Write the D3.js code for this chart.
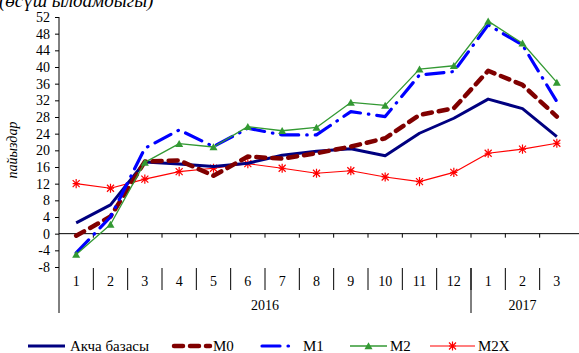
<!DOCTYPE html>
<html>
<head>
<meta charset="utf-8">
<script src="https://cdn.jsdelivr.net/npm/d3@7"></script>
<style>
  body { margin: 0; background: #fff; }
  svg { display: block; }
</style>
</head>
<body>
<div id="chart"></div>
<script>
const months = ["1", "2", "3", "4", "5", "6", "7", "8", "9", "10", "11", "12", "1", "2", "3"];
const years = [
  { label: "2016", n: 12 },
  { label: "2017", n: 3 },
];
const yTicks = [-8, -4, 0, 4, 8, 12, 16, 20, 24, 28, 32, 36, 40, 44, 48, 52];

const baseMoney = [2.6, 6.9, 17.2, 16.7, 16.1, 16.9, 18.8, 19.8, 20.4, 18.7, 24.1, 27.7, 32.3, 30.0, 23.3];
const m0 = [-0.5, 4.1, 17.3, 17.6, 13.9, 18.5, 18.0, 19.3, 20.9, 22.9, 28.5, 30.1, 39.1, 35.7, 28.1];
const m1 = [-4.6, 4.0, 20.5, 24.9, 20.9, 25.3, 23.7, 23.7, 29.3, 28.1, 38.1, 38.9, 50.1, 45.3, 31.7];
const m2 = [-5.0, 2.2, 17.1, 21.6, 20.8, 25.7, 24.7, 25.5, 31.5, 30.8, 39.5, 40.3, 51.0, 45.7, 36.3];
const m2x = [12.0, 10.9, 13.1, 14.9, 15.7, 16.8, 15.7, 14.5, 15.1, 13.6, 12.5, 14.7, 19.3, 20.3, 21.7];

const series = [
  { name: "Акча базасы", values: baseMoney, color: "#000080", width: 3, dash: null, cap: "butt" },
  { name: "M0", values: m0, color: "#800000", width: 4.5, dash: "9,7", cap: "round" },
  { name: "M1", values: m1, color: "#0000ff", width: 3.2, dash: "18,8,0.5,8", cap: "round" },
  { name: "M2", values: m2, color: "#339933", width: 1.3, dash: null, cap: "butt", marker: "triangle" },
  { name: "M2X", values: m2x, color: "#ff0000", width: 1.2, dash: null, cap: "butt", marker: "star" },
];

const FONT = "'Liberation Serif', 'DejaVu Serif', serif";
const size = { width: 579, height: 353 };
const margin = { left: 59, right: 5, top: 17, plotBottom: 267 };

const svg = d3
  .select("#chart")
  .append("svg")
  .attr("width", size.width)
  .attr("height", size.height);

const x = d3
  .scaleBand()
  .domain(d3.range(months.length))
  .range([margin.left, size.width - margin.right]);

const y = d3.scaleLinear().domain([-8, 52]).range([margin.plotBottom, margin.top]);

// title, cut off at the top like the source image
svg
  .append("text")
  .text("(өсүш ылдамдыгы)")
  .attr("x", -1)
  .attr("y", 7)
  .attr("font-size", 19)
  .attr("font-style", "italic")
  .attr("fill", "#000");

// y axis
const yAxis = svg
  .append("g")
  .attr("transform", `translate(${margin.left},0)`)
  .call(
    d3
      .axisLeft(y)
      .tickValues(yTicks)
      .tickSize(4)
      .tickPadding(5)
      .tickFormat((d) => String(d))
  );
yAxis.select(".domain").remove();
yAxis.selectAll("text").attr("font-size", 14).attr("fill", "#000");
yAxis.selectAll("line").attr("stroke", "#000");

svg
  .append("line")
  .attr("x1", margin.left)
  .attr("x2", margin.left)
  .attr("y1", margin.top)
  .attr("y2", 313)
  .attr("stroke", "#000");

svg
  .append("text")
  .text("пайыздар")
  .attr("transform", `translate(17, 150) rotate(-90)`)
  .attr("text-anchor", "middle")
  .attr("font-size", 14)
  .attr("font-style", "italic");

// zero line with ticks at month boundaries
const bw = x.bandwidth();
svg
  .append("line")
  .attr("x1", margin.left)
  .attr("x2", size.width)
  .attr("y1", y(0))
  .attr("y2", y(0))
  .attr("stroke", "#000");

d3.range(1, months.length).forEach((i) => {
  const bx = x(i);
  svg
    .append("line")
    .attr("x1", bx)
    .attr("x2", bx)
    .attr("y1", y(0))
    .attr("y2", y(0) + 4)
    .attr("stroke", "#000");
  svg
    .append("line")
    .attr("x1", bx)
    .attr("x2", bx)
    .attr("y1", 268)
    .attr("y2", 290)
    .attr("stroke", "#000");
});

months.forEach((m, i) => {
  svg
    .append("text")
    .text(m)
    .attr("x", x(i) + bw / 2)
    .attr("y", 286)
    .attr("text-anchor", "middle")
    .attr("font-size", 14);
});

let start = 0;
years.forEach((yr, k) => {
  const x0 = x(start);
  const x1 = start + yr.n < months.length ? x(start + yr.n) : x(months.length - 1) + bw;
  svg
    .append("text")
    .text(yr.label)
    .attr("x", (x0 + x1) / 2)
    .attr("y", 310)
    .attr("text-anchor", "middle")
    .attr("font-size", 14);
  if (k > 0) {
    svg
      .append("line")
      .attr("x1", x0)
      .attr("x2", x0)
      .attr("y1", 268)
      .attr("y2", 313)
      .attr("stroke", "#000");
  }
  start += yr.n;
});

// lines
const line = d3
  .line()
  .x((d, i) => x(i) + bw / 2)
  .y((d) => y(d));

const triangle = d3.symbol().type(d3.symbolTriangle).size(28);
const starPath = (r) =>
  `M${-r},${-r}L${r},${r}M${-r},${r}L${r},${-r}M0,${-r * 1.3}L0,${r * 1.3}M${-r},0L${r},0`;

const drawMarker = (g, s, cx, cy) => {
  if (s.marker === "triangle") {
    g.append("path")
      .attr("d", triangle())
      .attr("transform", `translate(${cx},${cy + 1})`)
      .attr("fill", s.color);
  } else if (s.marker === "star") {
    g.append("path")
      .attr("d", starPath(3.5))
      .attr("transform", `translate(${cx},${cy})`)
      .attr("stroke", s.color)
      .attr("stroke-width", 1.2)
      .attr("fill", "none");
  }
};

// draw order: M2X underneath, then base, M0, M1, M2 on top
const order = [4, 0, 1, 2, 3];
order.forEach((k) => {
  const s = series[k];
  const g = svg.append("g");
  g.append("path")
    .datum(s.values)
    .attr("d", line)
    .attr("fill", "none")
    .attr("stroke", s.color)
    .attr("stroke-width", s.width)
    .attr("stroke-linecap", s.cap)
    .attr("stroke-linejoin", "round")
    .attr("stroke-dasharray", s.dash);
  if (s.marker) {
    s.values.forEach((v, i) => drawMarker(g, s, x(i) + bw / 2, y(v)));
  }
});

// legend
const legendItems = [
  { x1: 28, x2: 65, tx: 70 },
  { x1: 174, x2: 210, tx: 213 },
  { x1: 262, x2: 295, tx: 303 },
  { x1: 350, x2: 387, tx: 390 },
  { x1: 430, x2: 475, tx: 478 },
];
const ly = 346;
series.forEach((s, k) => {
  const p = legendItems[k];
  const g = svg.append("g");
  g.append("line")
    .attr("x1", p.x1)
    .attr("x2", p.x2)
    .attr("y1", ly)
    .attr("y2", ly)
    .attr("stroke", s.color)
    .attr("stroke-width", s.width)
    .attr("stroke-linecap", s.cap)
    .attr("stroke-dasharray", s.dash);
  if (s.marker) drawMarker(g, s, (p.x1 + p.x2) / 2, ly);
  g.append("text")
    .text(s.name)
    .attr("x", p.tx)
    .attr("y", ly + 5)
    .attr("font-size", 15);
});

svg.selectAll("text").attr("font-family", FONT);
</script>
</body>
</html>
